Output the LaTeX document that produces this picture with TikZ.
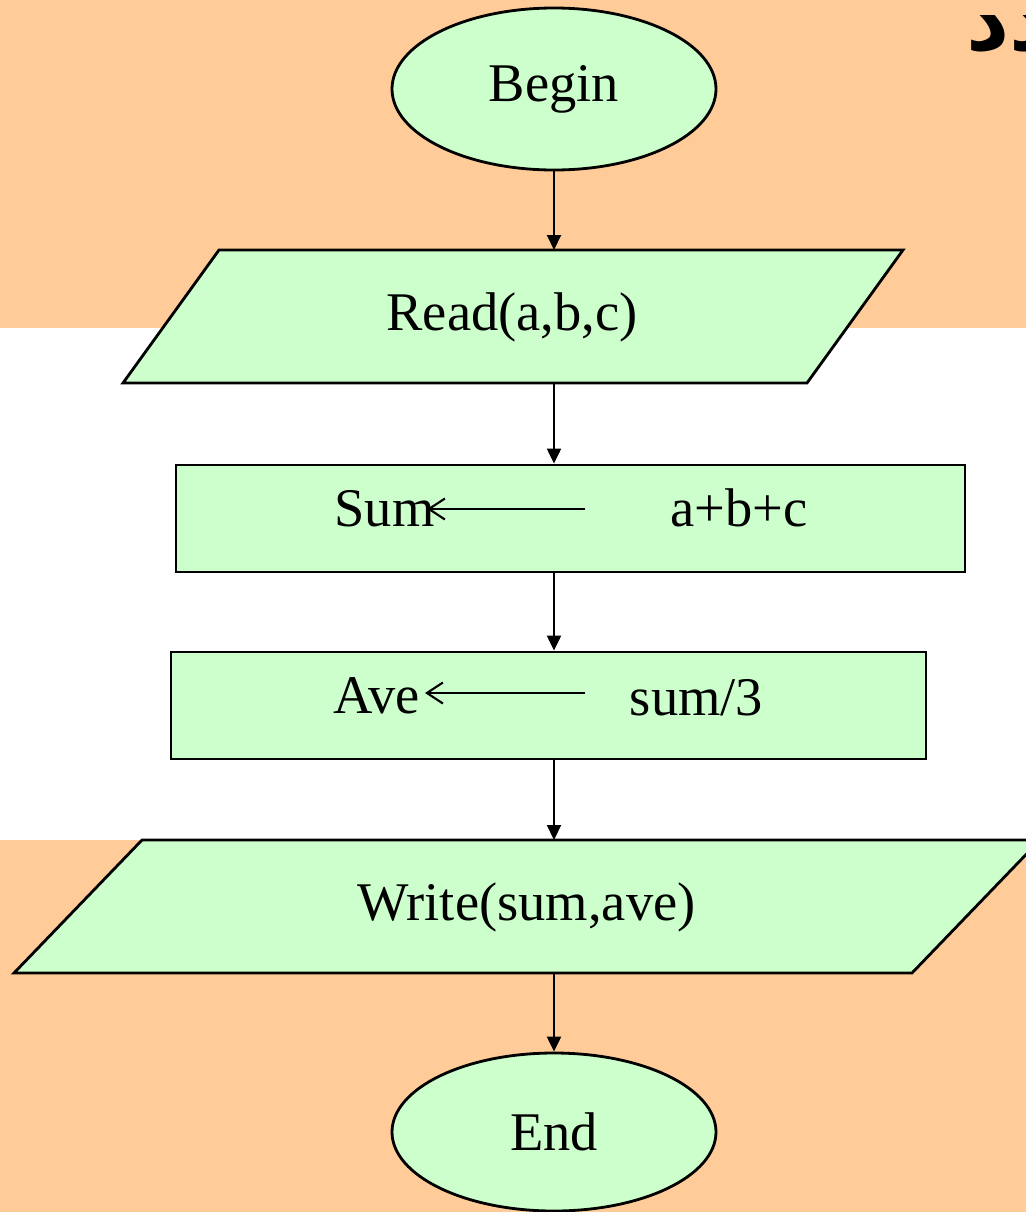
\documentclass[tikz,border=0pt]{standalone}
\usepackage{fontspec}
\setmainfont{Liberation Serif}
\newfontfamily\arabicfont[Script=Arabic]{DejaVu Sans}
\TeXXeTstate=1
\usetikzlibrary{positioning, shapes.geometric, arrows.meta, calc}
\definecolor{bgorange}{RGB}{255,204,153}
\definecolor{boxgreen}{RGB}{204,255,204}
\tikzset{
    terminal/.style={ellipse, draw, line width=0.8pt, fill=boxgreen, minimum width=3.24cm, minimum height=1.62cm},
    io_frame/.style={rectangle, inner sep=0pt, outer sep=0pt, minimum height=1.33cm},
    io_shape/.style={draw, line width=0.8pt, fill=boxgreen, line join=miter},
    process/.style={rectangle, draw, line width=0.8pt, fill=boxgreen, minimum height=1.07cm},
    flow_arrow/.style={line width=0.6pt, -{Triangle[length=1.5mm, width=1.4mm]}},
    assign_arrow/.style={line width=0.6pt, -{Straight Barb[length=1.6mm, width=2.1mm]}},
    box_text/.style={anchor=base, inner sep=0pt}
}

\begin{document}
\begin{tikzpicture}[font=\fontsize{15.5}{18}\selectfont]
    \useasboundingbox (0,0) rectangle (10.26,-12.12);
    \clip (0,0) rectangle (10.26,-12.12);

    % --- Background bands ---
    \fill[bgorange] (0,0) rectangle (10.26,-3.28);
    \fill[bgorange] (0,-8.40) rectangle (10.26,-12.12);
    \node[anchor=west, inner sep=0pt, font=\arabicfont\bfseries\fontsize{24}{28}\selectfont] (heading) at (9.66,-0.30) {\beginR عدد\endR};

    % --- Flowchart blocks ---
    \node (begin) [terminal] at (5.54,-0.89) {Begin};

    \node (read) [io_frame, minimum width=6.84cm] at (5.13,-3.165) {};
    \filldraw[io_shape] ($(read.north west)+(0.48,0)$) -- ($(read.north east)+(0.48,0)$)
        -- ($(read.south east)-(0.48,0)$) -- ($(read.south west)-(0.48,0)$) -- cycle;
    \node (readtext) [box_text] at (5.12,-3.30) {Read(a,b,c)};

    \node (sum) [process, minimum width=7.89cm] at (5.705,-5.185) {};
    \node (ave) [process, minimum width=7.55cm] at (5.485,-7.055) {};

    \node (write) [io_frame, minimum width=8.98cm] at (5.27,-9.065) {};
    \filldraw[io_shape] ($(write.north west)+(0.64,0)$) -- ($(write.north east)+(0.64,0)$)
        -- ($(write.south east)-(0.64,0)$) -- ($(write.south west)-(0.64,0)$) -- cycle;
    \node (writetext) [box_text] at (5.265,-9.20) {Write(sum,ave)};

    \node (end) [terminal, minimum height=1.58cm] at (5.54,-11.32) {End};

    % --- Assignments inside the boxes ---
    \node (sumvar) [box_text] at (3.845,-5.26) {Sum};
    \node (sumexpr) [box_text] at (7.39,-5.26) {a+b+c};
    \coordinate (sumfrom) at (5.85,-5.09);
    \coordinate (sumto) at (4.27,-5.09);
    \draw[assign_arrow] (sumfrom) -- (sumto);

    \node (avevar) [box_text] at (3.765,-7.13) {Ave};
    \node (aveexpr) [box_text] at (6.965,-7.15) {sum/3};
    \coordinate (avefrom) at (5.85,-6.93);
    \coordinate (aveto) at (4.25,-6.93);
    \draw[assign_arrow] (avefrom) -- (aveto);

    % --- Flow lines ---
    \draw[flow_arrow] (begin.south) -- (begin.south |- read.north);
    \draw[flow_arrow] (begin.south |- read.south) -- (begin.south |- sum.north);
    \draw[flow_arrow] (begin.south |- sum.south) -- (begin.south |- ave.north);
    \draw[flow_arrow] (begin.south |- ave.south) -- (begin.south |- write.north);
    \draw[flow_arrow] (begin.south |- write.south) -- (end.north);
\end{tikzpicture}
\end{document}
